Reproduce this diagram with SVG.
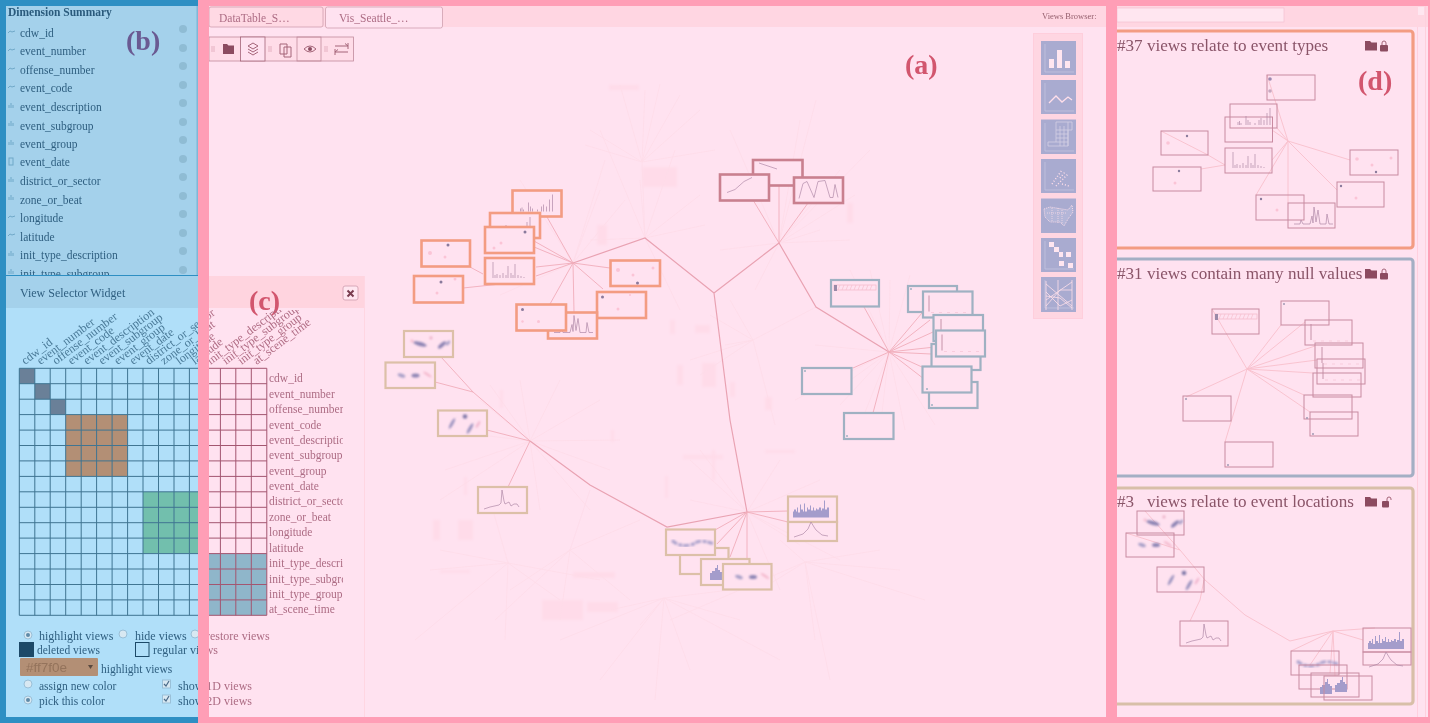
<svg xmlns="http://www.w3.org/2000/svg" xmlns:xlink="http://www.w3.org/1999/xlink" width="1430" height="723" viewBox="0 0 1430 723">
<style>
text{font-family:"Liberation Serif","Times New Roman",serif}
.bt{fill:#2f5f80;font-size:11.5px}
.pt{fill:#ad6c84;font-size:11.5px}
.view{fill:#ffe2f0;stroke-width:2.2}
.o{stroke:#f39c82;stroke-width:2.6}.r{stroke:#c9808f;stroke-width:2.6}.u{stroke:#9fb1c2}.n{stroke:#dcc0a8}
.m{fill:none;stroke:#c88aa0;stroke-width:1}
.e{fill:none;stroke:#f0adba;stroke-width:.9}
.t{fill:none;stroke:#e9a2b2;stroke-width:1.200}
.me{fill:none;stroke:#f8bfcc;stroke-width:.9}
.f{fill:none;stroke:#fedce9;stroke-width:.8}
.dk{fill:#8a7a9c}.pl{fill:#fbc4d6}.sm{fill:none;stroke:#b08aa8;stroke-width:.7}
.ttl{fill:#8a5468;font-size:17.100px}
.lab{font-size:28px;font-weight:bold}
.ic{fill:#a9abd0}.gl{fill:none;stroke:#ffdfea;stroke-width:1.3}.glf{fill:#ffe6f0}
.tb{fill:none;stroke:#a46478;stroke-width:1}
.tbf{fill:#8c4c60}
.pan{fill:none;stroke-width:3.2}
.info{fill:#8fbcd4}
</style>
<defs>
<filter id="soft" filterUnits="userSpaceOnUse" x="0" y="0" width="1430" height="723"><feGaussianBlur stdDeviation=".4"/></filter>
<filter id="bl" x="-30%" y="-30%" width="160%" height="160%"><feGaussianBlur stdDeviation="1.100"/></filter>
<filter id="bl2" x="-30%" y="-30%" width="160%" height="160%"><feGaussianBlur stdDeviation="1.500"/></filter>
<clipPath id="cl"><rect x="0" y="310" width="198" height="413"/></clipPath>
<clipPath id="cr"><rect x="209" y="310" width="134" height="413"/></clipPath>
<clipPath id="clb"><rect x="0" y="6" width="197" height="269"/></clipPath>
<clipPath id="crb"><rect x="209" y="620" width="150" height="100"/></clipPath>
<clipPath id="clc"><rect x="0" y="620" width="198" height="100"/></clipPath>

<g id="barsA" class="sm"><path d="M8 21v-3M9.500 21v-4M11 21v-2M16 21v-9M18 21v-5M20 21v-3M25 21v-2M29 21v-5M31 21v-7M34 21v-5M37 21v-12M40 21v-17"/></g>
<g id="barsB" class="sm"><path d="M8 20V4M10 20v-3M12 20v-4M15 20v-3M18 20v-5M21 20v-3M23 20V8M26 20v-5M28 20v-3M30 20V6M33 20v-3M36 20v-2M39 20v-1"/></g>
<path id="peak" class="sm" d="M6 20H12L13 16L15 20H22L24 12L25 19L26 3L28 18L30 6L32 20H38L39 10L41 20H45"/>
<path id="redA" class="sm" d="M6 3L24 9"/>
<path id="redB" class="sm" d="M7 18L15 15L24 7L32 3"/>
<path id="redC" class="sm" d="M5 21L9 6L13 4L20 20L24 4L31 3L36 20L39 20L41 7L44 20"/>
<g id="nul"><rect x="3" y="5" width="42" height="5" fill="none" stroke="#f4b8c8" stroke-width=".7"/><path d="M7 10l2-5M11 10l2-5M15 10l2-5M19 10l2-5M23 10l2-5M27 10l2-5M31 10l2-5M35 10l2-5M39 10l2-5" fill="none" stroke="#f4b8c8" stroke-width=".6"/><rect x="3" y="5" width="3" height="6" fill="#9a8aa8"/></g>
<g id="nlA"><path d="M6 4V20" stroke="#c08aa0" stroke-width=".9"/><path d="M8 21H44" stroke="#f4c0d0" stroke-width=".6" stroke-dasharray="3 5"/></g>
<g id="blA" filter="url(#bl)" fill="#8c84b4"><ellipse cx="16" cy="13" rx="7" ry="2" transform="rotate(15 16 13)"/><ellipse cx="38" cy="14" rx="5" ry="1.800" transform="rotate(-40 38 14)"/><ellipse cx="44" cy="12" rx="3" ry="1.500" transform="rotate(-50 44 12)" fill="#a8a0c8"/><circle cx="27" cy="7" r="1.400" fill="#e8a8c0"/><circle cx="8" cy="10" r="1.400" fill="#f4b8cc"/></g>
<g id="blB" filter="url(#bl)" fill="#8c84b4"><ellipse cx="16" cy="13" rx="4" ry="1.800" transform="rotate(20 16 13)" fill="#a8a0c8"/><ellipse cx="30" cy="13" rx="4" ry="2"/><ellipse cx="42" cy="12" rx="5" ry="1.200" transform="rotate(35 42 12)" fill="#f4b8cc"/></g>
<g id="blC" filter="url(#bl)" fill="#9c94c0"><ellipse cx="14" cy="13" rx="6" ry="1.500" transform="rotate(-60 14 13)"/><circle cx="27" cy="6" r="2.300" fill="#7f78a8"/><ellipse cx="32" cy="18" rx="6" ry="1.600" transform="rotate(-60 32 18)"/><ellipse cx="40" cy="14" rx="4" ry="1.200" transform="rotate(-60 40 14)" fill="#f0b4cc"/></g>
<path id="spk" class="sm" d="M6 22L12 20L21 18L23 16L24 3L26 14L27 17L31 15L33 19L36 17L39 17L41 20"/>
<path id="dns" fill="#a49ccb" d="M5 21V15H6V13H8V15H9V11H10V16H12V8H13V13H15V15H16V7H17V15H19V11H20V13H22V9H23V14H25V11H26V14H28V12H29V13H31V11H33V14H34V12H36V4H37V13H39V11H41V21Z"/>
<path id="bel" class="sm" d="M6 15L15 12L20 7L23 0L26 5L28 8L34 13L40 14"/>
<g id="blD" filter="url(#bl)"><path d="M6 11Q12 16 19 16T30 13T47 14" fill="none" stroke="#aaa2cc" stroke-width="3" stroke-dasharray="6 1.500 4 1"/></g>
<path id="hst" fill="#a49ccb" d="M9 21V14H11V12H14V9H16V6H17V11H19V13H21V21Z"/>

<g id="gridL"><path d="M19.300 368.300V615.300M34.800 368.300V615.300M50.200 368.300V615.300M65.700 368.300V615.300M81.200 368.300V615.300M96.600 368.300V615.300M112.100 368.300V615.300M127.600 368.300V615.300M143 368.300V615.300M158.500 368.300V615.300M174 368.300V615.300M189.400 368.300V615.300M204.900 368.300V615.300M220.400 368.300V615.300M235.800 368.300V615.300M251.300 368.300V615.300M266.800 368.300V615.300M19.300 368.300H266.800M19.300 383.700H266.800M19.300 399.200H266.800M19.300 414.600H266.800M19.300 430.100H266.800M19.300 445.500H266.800M19.300 460.900H266.800M19.300 476.400H266.800M19.300 491.800H266.800M19.300 507.300H266.800M19.300 522.700H266.800M19.300 538.100H266.800M19.300 553.600H266.800M19.300 569H266.800M19.300 584.500H266.800M19.300 599.900H266.800M19.300 615.300H266.800"/></g>
<g id="rot" font-size="12">
<text transform="translate(25 365) rotate(-37)">cdw_id</text>
<text transform="translate(40.500 365) rotate(-37)">event_number</text>
<text transform="translate(56 365) rotate(-37)">offense_number</text>
<text transform="translate(71.400 365) rotate(-37)">event_code</text>
<text transform="translate(86.900 365) rotate(-37)">event_description</text>
<text transform="translate(102.300 365) rotate(-37)">event_subgroup</text>
<text transform="translate(117.800 365) rotate(-37)">event_group</text>
<text transform="translate(133.200 365) rotate(-37)">event_date</text>
<text transform="translate(148.700 365) rotate(-37)">district_or_sector</text>
<text transform="translate(164.100 365) rotate(-37)">zone_or_beat</text>
<text transform="translate(179.600 365) rotate(-37)">longitude</text>
<text transform="translate(195 365) rotate(-37)">latitude</text>
<text transform="translate(210.500 365) rotate(-37)">init_type_description</text>
<text transform="translate(225.900 365) rotate(-37)">init_type_subgroup</text>
<text transform="translate(241.400 365) rotate(-37)">init_type_group</text>
<text transform="translate(256.800 365) rotate(-37)">at_scene_time</text>
</g>
<g id="ctl" font-size="12">
<text x="39" y="640">highlight views</text><text x="135" y="640">hide views</text><text x="206" y="640">restore views</text>
<text x="153" y="654">regular views</text>
<text x="178" y="690">show 1D views</text><text x="178" y="705">show 2D views</text>
</g>
</defs>

<g filter="url(#soft)">
<rect width="1430" height="723" fill="#ffe2f0"/>

<!-- left blue side -->
<rect x="0" y="0" width="198" height="723" fill="#2f8fc3"/>
<g id="panel-b">
<rect x="6" y="6" width="191" height="269" fill="#a4d1eb"/>
<rect x="196.500" y="6" width="1.500" height="269" fill="#7fb8d8"/>
<text x="8" y="16" font-size="11.500" font-weight="bold" fill="#2a5a7c">Dimension Summary</text>
<g clip-path="url(#clb)" class="bt">
<text x="20" y="36.500">cdw_id</text><text x="20" y="55">event_number</text><text x="20" y="73.500">offense_number</text><text x="20" y="92">event_code</text><text x="20" y="111">event_description</text><text x="20" y="129.500">event_subgroup</text><text x="20" y="148">event_group</text><text x="20" y="166">event_date</text><text x="20" y="185">district_or_sector</text><text x="20" y="203.500">zone_or_beat</text><text x="20" y="222">longitude</text><text x="20" y="240.500">latitude</text><text x="20" y="259">init_type_description</text><text x="20" y="277.500">init_type_subgroup</text>
<g fill="none" stroke="#6fa8c8" stroke-width="1"><path d="M8 33l2-2 2 1 3-1M8 51l2-2 2 1 3-1M8 70l2-2 2 1 3-1M8 88l2-2 2 1 3-1M8 218l2-2 2 1 3-1M8 236l2-2 2 1 3-1M9 108v-3M11 108v-5M13 108v-3M9 126v-3M11 126v-5M13 126v-3M9 145v-3M11 145v-5M13 145v-3M9 182v-3M11 182v-5M13 182v-3M9 200v-3M11 200v-5M13 200v-3M9 256v-3M11 256v-5M13 256v-3M9 274v-3M11 274v-5M13 274v-3"/><rect x="9" y="158" width="4" height="7"/></g>
</g>
<g class="info"><circle cx="183" cy="29" r="4"/><circle cx="183" cy="48" r="4"/><circle cx="183" cy="66" r="4"/><circle cx="183" cy="85" r="4"/><circle cx="183" cy="103" r="4"/><circle cx="183" cy="122" r="4"/><circle cx="183" cy="140" r="4"/><circle cx="183" cy="159" r="4"/><circle cx="183" cy="177" r="4"/><circle cx="183" cy="196" r="4"/><circle cx="183" cy="214" r="4"/><circle cx="183" cy="233" r="4"/><circle cx="183" cy="251" r="4"/><circle cx="183" cy="270" r="4"/></g>
<text class="lab" x="126" y="50" fill="#6a5a92">(b)</text>
</g>

<g id="view-selector">
<rect x="6" y="276" width="192" height="441" fill="#b0dff9"/>
<rect x="6" y="276" width="192" height="32" fill="#a4d1eb"/>
<text x="20" y="297" font-size="12" fill="#2f5f80">View Selector Widget</text>
<g clip-path="url(#cl)" fill="#4a7a98"><use href="#rot"/></g>
<rect x="19.300" y="368.300" width="15.500" height="15.400" fill="#6a8098"/>
<rect x="34.800" y="383.700" width="15.400" height="15.500" fill="#6a8098"/>
<rect x="50.200" y="399.200" width="15.500" height="15.400" fill="#6a8098"/>
<rect x="65.700" y="414.600" width="61.900" height="61.800" fill="#b38f74"/>
<rect x="143" y="491.800" width="55" height="61.800" fill="#72bfad"/>
<g clip-path="url(#cl)" fill="none" stroke="#3f7492" stroke-width="1"><use href="#gridL"/></g>
<g clip-path="url(#clc)" class="bt" fill="#2f5f80"><use href="#ctl"/></g>
<text class="bt" x="37" y="654" font-size="12">deleted views</text>
<rect x="19" y="642" width="15" height="15" fill="#1c4a68"/>
<rect x="135.500" y="642.500" width="13.500" height="14" fill="none" stroke="#1c4a68"/>
<rect x="20" y="658" width="78" height="18" rx="1" fill="#b38f74"/>
<text x="26" y="672" font-size="13.500" fill="#94735c" style="font-family:'Liberation Sans',sans-serif">#ff7f0e</text>
<path d="M88 665h5l-2.500 4z" fill="#5a4a40"/>
<text class="bt" x="101" y="673" font-size="12">highlight views</text>
<text class="bt" x="39" y="690" font-size="12">assign new color</text>
<text class="bt" x="39" y="705" font-size="12">pick this color</text>
<g fill="#d8e8f2" stroke="#9ac0d8"><circle cx="28" cy="635" r="4"/><circle cx="123" cy="634" r="4"/><circle cx="195" cy="634" r="4"/><circle cx="28" cy="684" r="4"/><circle cx="28" cy="700" r="4"/><rect x="162.500" y="680" width="8" height="8"/><rect x="162.500" y="695" width="8" height="8"/></g>
<g fill="#5f8aa8"><circle cx="28" cy="635" r="2"/><circle cx="28" cy="700" r="2"/></g>
<path d="M164 684l2 2 3-5M164 699l2 2 3-5" fill="none" stroke="#4a6a88" stroke-width="1.200"/>
</g>

<!-- main view -->
<g id="main-faint">
<g filter="url(#bl2)" fill="#ffdbe9"><rect x="642" y="167" width="35" height="20"/><rect x="597" y="225" width="10" height="20"/><rect x="609" y="85" width="30" height="5"/><rect x="670" y="320" width="5" height="14"/><rect x="677" y="365" width="6" height="20"/><rect x="702" y="363" width="14" height="24"/><rect x="730" y="382" width="5" height="15"/><rect x="765" y="397" width="7" height="13"/><rect x="695" y="325" width="15" height="8"/><rect x="847" y="203" width="6" height="20"/><rect x="611" y="430" width="3" height="12"/><rect x="458" y="520" width="15" height="20"/><rect x="433" y="520" width="7" height="20"/><rect x="573" y="572" width="42" height="6"/><rect x="542" y="600" width="41" height="20"/><rect x="587" y="602" width="31" height="10"/><rect x="464" y="477" width="3" height="18"/><rect x="505" y="492" width="3" height="5"/><rect x="683" y="455" width="40" height="4"/><rect x="712" y="450" width="3" height="30"/><rect x="665" y="476" width="3" height="22"/><rect x="765" y="450" width="30" height="3"/><rect x="440" y="570" width="30" height="3"/><rect x="500" y="390" width="3" height="18"/></g>
<path class="f" d="M642 162L620 85M642 162L645 90M642 162L680 95M642 162L700 110M642 162L590 130M642 162L585 145M642 162L715 150M642 162L660 84M642 162L645 238
M779 243L816 100M779 243L870 150M779 243L840 170M779 243L800 120M779 243L850 240M779 243L720 250M779 243L730 130M779 243L820 230M779 243L755 290M779 243L855 195
M645 238L600 130M645 238L640 180M645 238L675 150M645 238L590 240M645 238L680 310M645 238L705 225M645 238L700 195
M573 263L520 180M573 263L600 190M573 263L625 200M573 263L605 160M573 263L500 295
M889 352L890 280M889 352L870 270M889 352L850 270M889 352L815 345M889 352L830 395M889 352L860 425M889 352L905 430M889 352L935 425M889 352L795 400M889 352L910 275M889 352L840 405M889 352L880 430
M753 340L816 307M753 340L730 300M753 340L690 360M753 340L710 315M753 340L775 425M753 340L700 375M753 340L725 345
M530 441L480 400M530 441L520 380M530 441L560 380M530 441L600 400M530 441L620 440M530 441L610 470M530 441L440 500M530 441L445 470M530 441L590 510M530 441L540 510M530 441L440 430M530 441L490 385
M747 512L690 460M747 512L700 450M747 512L780 460M747 512L820 480M747 512L840 560M747 512L780 590M747 512L690 500M747 512L700 560M747 512L800 545
M805 562L670 620M805 562L760 590M805 562L880 550M805 562L830 680M805 562L815 640M805 562L900 570M805 562L925 600M805 562L780 540
M664 598L640 625M664 598L600 680M664 598L560 640M664 598L740 620M664 598L780 660M664 598L690 670M664 598L655 700M664 598L730 590M664 598L610 610
M570 550L590 490M570 550L510 590M570 550L560 620M570 550L495 620M570 550L630 600M570 550L640 520
M508 563L440 550M508 563L430 570M508 563L415 640M508 563L505 640M508 563L560 600M508 563L600 580M508 563L490 500"/>
</g>
<g id="connectors">
<path class="t" d="M714 293L730 420L747 512M714 293L645 238L573 263M714 293L779 243M779 243L816 307L889 352M530 441L590 485L667 527L747 512"/>
<path class="e" d="M573 263L547 217M573 263L534 241M573 263L534 247M573 263L536 267M573 263L536 276M470 267L483 274M463 288L510 283M573 263L610 268M573 263L603 289M573 263L550 304M573 263L574 312
M779 243L753 200M779 243L779 186M779 243L808 203
M889 352L864 307M889 352L922 313M889 352L930 320M889 352L933 332M889 352L935 347M889 352L931 354M889 352L922 367M889 352L928 382M889 352L853 368M889 352L873 413
M530 441L473 392L441 357M473 392L435 382M530 441L487 430M530 441L508 487
M747 512L788 511M747 512L788 522M747 512L715 530M747 512L717 544M747 512L730 557M747 512L747 565"/>
<path class="me" d="M1267 75L1288 141M1277 128L1288 141M1272 130L1288 141M1161 131L1208 155L1225 165M1272 160L1288 141M1201 169L1225 165M1350 160L1288 141M1337 190L1288 141M1256 195L1288 141M1288 203L1288 141
M1212 309L1247 369M1281 325L1247 369M1305 322L1247 369M1315 346L1247 369M1317 360L1247 369M1313 373L1247 369M1304 395L1247 369M1310 412L1247 369M1186 397L1247 369M1225 442L1247 369
M1145 511L1180 550L1205 580L1245 615L1290 641L1333 631M1126 533L1180 550M1204 580L1200 600L1190 621M1333 631L1291 651M1333 631L1310 665M1333 631L1330 673M1333 631L1335 676M1333 631L1363 640M1333 631L1375 628"/>
</g>
<g id="nodes-main">
<g id="v-o1"><rect class="view o" x="512.500" y="190.500" width="49" height="26"/><use href="#barsA" x="512.500" y="190.500"/></g>
<g id="v-o2"><rect class="view o" x="490" y="213" width="50" height="25"/><use href="#barsA" x="490" y="213"/></g>
<g id="v-o3"><rect class="view o" x="485" y="227" width="49" height="26"/><circle class="dk" cx="525" cy="232" r="1.500"/><circle class="pl" cx="501" cy="243" r="1.500"/><circle class="pl" cx="494" cy="248" r="1.500"/></g>
<g id="v-o4"><rect class="view o" x="421.500" y="240.500" width="48.500" height="26"/><circle class="dk" cx="448" cy="245" r="1.500"/><circle class="pl" cx="430" cy="253" r="2"/><circle class="pl" cx="445" cy="257" r="1.500"/></g>
<g id="v-o5"><rect class="view o" x="485" y="258" width="49" height="26"/><use href="#barsB" x="485" y="258"/></g>
<g id="v-o6"><rect class="view o" x="414" y="276" width="49" height="26.500"/><circle class="dk" cx="441" cy="282" r="1.500"/><circle class="pl" cx="437" cy="293" r="1.500"/><circle class="pl" cx="455" cy="279" r="1.500"/></g>
<g id="v-o7"><rect class="view o" x="610.500" y="260.500" width="49.500" height="25.500"/><circle class="dk" cx="637.500" cy="283" r="1.500"/><circle class="pl" cx="618" cy="270" r="2"/><circle class="pl" cx="633" cy="275" r="1.500"/><circle class="pl" cx="653" cy="268" r="1.500"/></g>
<g id="v-o8"><rect class="view o" x="597" y="292" width="49" height="26"/><circle class="dk" cx="602.500" cy="297" r="1.500"/><circle class="pl" cx="618" cy="309" r="1.500"/><circle class="pl" cx="630" cy="295" r="1"/></g>
<g id="v-o10"><rect class="view o" x="548" y="312.500" width="49" height="26"/><use href="#peak" x="548" y="312.500"/></g>
<g id="v-o9"><rect class="view o" x="516.500" y="304.500" width="49.500" height="26"/><circle class="dk" cx="522.500" cy="309.500" r="1.500"/><circle class="pl" cx="538.500" cy="321.500" r="1.500"/><circle class="pl" cx="522.500" cy="321.500" r="1.200"/></g>
<g id="v-r1"><rect class="view r" x="753" y="160" width="49.500" height="25.500"/><use href="#redA" x="753" y="160"/></g>
<g id="v-r3"><rect class="view r" x="794" y="177.500" width="49" height="25.500"/><use href="#redC" x="794" y="177.500"/></g>
<g id="v-r2"><rect class="view r" x="720" y="174.500" width="49" height="26"/><use href="#redB" x="720" y="174.500"/></g>
<g id="v-u1"><rect class="view u" x="831" y="280" width="48" height="26.500"/><use href="#nul" x="831" y="280"/></g>
<g id="v-u2"><rect class="view u" x="908" y="286" width="49" height="26"/><circle cx="911" cy="289" r="1" fill="#9fb1c2"/></g>
<g id="v-u3"><rect class="view u" x="923" y="291.500" width="49.500" height="26"/><use href="#nlA" x="923" y="291.500"/></g>
<g id="v-u4"><rect class="view u" x="933.500" y="315" width="49.500" height="26"/><use href="#nlA" x="935" y="315"/></g>
<g id="v-u6"><rect class="view u" x="931.500" y="344" width="49" height="26"/></g>
<g id="v-u5"><rect class="view u" x="936" y="330.500" width="49" height="26"/><use href="#nlA" x="936" y="330.500"/></g>
<g id="v-u8"><rect class="view u" x="929" y="382" width="48.500" height="26"/><circle cx="932" cy="405" r="1" fill="#9fb1c2"/></g>
<g id="v-u7"><rect class="view u" x="922.500" y="366.500" width="49" height="26"/><circle cx="927" cy="389" r="1" fill="#9fb1c2"/></g>
<g id="v-u9"><rect class="view u" x="802" y="368" width="49.500" height="26"/><circle cx="805" cy="371" r="1" fill="#9fb1c2"/></g>
<g id="v-u10"><rect class="view u" x="844" y="413" width="49.500" height="26"/><circle cx="847" cy="436" r="1" fill="#9fb1c2"/></g>
<g id="v-n1"><rect class="view n" x="404" y="331" width="49" height="26"/><use href="#blA" x="404" y="331"/></g>
<g id="v-n2"><rect class="view n" x="385.500" y="362.500" width="49.500" height="25.500"/><use href="#blB" x="385.500" y="362.500"/></g>
<g id="v-n3"><rect class="view n" x="438" y="410.500" width="49" height="25.500"/><use href="#blC" x="438" y="410.500"/></g>
<g id="v-n4"><rect class="view n" x="478" y="487" width="49" height="26"/><use href="#spk" x="478" y="487"/></g>
<g id="v-n5"><rect class="view n" x="788" y="496.500" width="49" height="25.500"/><use href="#dns" x="788" y="496.500"/></g>
<g id="v-n6"><rect class="view n" x="788" y="522" width="49" height="19"/><use href="#bel" x="788" y="522"/></g>
<g id="v-n7"><rect class="view n" x="680" y="548" width="48.500" height="26"/></g>
<g id="v-n8"><rect class="view n" x="666" y="529.500" width="49" height="25.500"/><use href="#blD" x="666" y="529.500"/></g>
<g id="v-n9"><rect class="view n" x="701" y="559" width="48.500" height="26"/><use href="#hst" x="701" y="559"/></g>
<g id="v-n10"><rect class="view n" x="723" y="564" width="48.500" height="25.500"/><use href="#blB" x="723" y="564"/></g>
</g>

<text class="lab" x="905" y="74" fill="#d2566e">(a)</text>

<!-- tab strip -->
<g id="tabs">
<rect x="209" y="6" width="897" height="21" fill="#ffd6e2"/>
<rect x="209" y="7" width="114" height="20" rx="2" fill="#ffd9e4" stroke="#cf9fae" stroke-width=".8"/>
<rect x="325.500" y="7" width="117" height="21" rx="2" fill="#ffe2f0" stroke="#cf9fae" stroke-width=".8"/>
<text class="pt" x="219" y="22" font-size="11.500">DataTable_S…</text>
<text class="pt" x="339" y="22" font-size="11.500">Vis_Seattle_…</text>
<text x="1042" y="19" font-size="8.500" fill="#96606e">Views Browser:</text>
</g>
<g id="toolbar">
<rect x="209" y="37" width="144.500" height="24" fill="#ffdce8" stroke="#c08a9c" stroke-width=".8"/>
<rect x="240.500" y="37" width="24.500" height="24" fill="#ffe2f0" stroke="#a46478" stroke-width=".8"/>
<rect x="297" y="37" width="24" height="24" fill="none" stroke="#c08a9c" stroke-width=".8"/>
<path class="tbf" d="M223 44h4l1.500 1.500H234V54H223z"/>
<path class="tb" d="M248 46l5-3 5 3-5 3zM248 49l5 3 5-3M248 52l5 3 5-3" stroke-width=".8"/>
<path class="tb" d="M280 44h7v10h-7zM284 47h7v10h-7z" fill="#ffdce8"/>
<path class="tb" d="M304 49q6-6 12 0q-6 6-12 0z"/><circle class="tbf" cx="310" cy="49" r="2"/>
<path class="tb" d="M335 46h13M345 43.500l3 2.500M348 43v6M335 52h13M338 49.500l-3 2.500M335 49v6"/>
<path d="M212 46v6M214 46v6M269 46v6M271 46v6M325 46v6M327 46v6" stroke="#e4b0c0" fill="none"/>
</g>
<g id="chart-palette">
<rect x="1033.500" y="33.500" width="49" height="285" fill="#ffd6e2" stroke="#ffcedc"/>
<rect class="ic" x="1041" y="41" width="35" height="34"/><rect class="ic" x="1041" y="80" width="35" height="34"/><rect class="ic" x="1041" y="119.500" width="35" height="34.500"/><rect class="ic" x="1041" y="159" width="35" height="34"/><rect class="ic" x="1041" y="198.500" width="35" height="34.500"/><rect class="ic" x="1041" y="238" width="35" height="34"/><rect class="ic" x="1041" y="277" width="35" height="35"/>
<path d="M1045 44V72H1074M1045 83V111H1074M1045 123V151H1074M1045 162V190H1074M1045 241V269H1074M1045 280V308H1074" fill="none" stroke="#c4c4e0" stroke-width=".8"/>
<path class="glf" d="M1049 59h5v9h-5zM1057 50h5v18h-5zM1065 61h5v7h-5z"/>
<path class="gl" d="M1049 103l7-7 6 6 6-5 4 3" stroke-width="1.500"/>
<path fill="none" stroke="#d4cfe4" stroke-width=".8" d="M1056 122h16v8h-4v16h-20v-4h8zM1060 126v20M1064 126v20M1068 122v24M1056 130h12M1056 134h12M1056 138h12M1056 142h12"/>
<path fill="none" stroke="#ffdfea" stroke-width="1.500" stroke-dasharray="1 2" d="M1052 184L1062 170M1056 186L1068 174M1062 184l7 2M1060 178l5-6"/>
<path fill="#b4b6d8" stroke="#ffdfea" stroke-width=".9" stroke-dasharray="1 1" d="M1044 209L1050 207L1068 210L1072 205L1073 212L1068 219L1064 226L1060 222L1050 222L1045 217Z"/>
<path d="M1047 213H1067M1052 208V222M1058 208V224M1062 210V224" stroke="#ffdfea" stroke-width=".7" stroke-dasharray="1 1" fill="none"/>
<path class="glf" d="M1049 242h5v5h-5zM1054 247h5v5h-5zM1059 252h4v5h-4zM1066 252h5v5h-5zM1059 261h5v5h-5zM1068 263h5v5h-5z"/>
<path fill="none" stroke="#ffdfea" stroke-width=".8" d="M1046 284L1072 306M1046 300L1072 282M1046 292L1060 306L1072 300M1046 306L1060 290L1072 290M1046 296L1060 298L1072 308M1058 280V310M1046 281V310M1072 280V310"/>
</g>

<!-- panel c -->
<g id="panel-c">
<rect x="209" y="276" width="155" height="32" fill="#ffd4df"/>
<rect x="209" y="308" width="155" height="409" fill="#ffe2f0"/>
<path d="M364.500 276V717" stroke="#ffd6e2" fill="none"/>
<text class="lab" x="249" y="310" fill="#d2566e">(c)</text>
<rect x="343" y="286" width="15" height="14" rx="2" fill="#ffe6f0" stroke="#d8a8b8"/>
<path d="M347.500 290.500l6 6M353.500 290.500l-6 6" stroke="#7a3c50" stroke-width="2" fill="none"/>
<g clip-path="url(#cr)" fill="#b06c84"><use href="#rot"/></g>
<rect x="209" y="553.600" width="57.800" height="61.700" fill="#8fb6ca"/>
<g clip-path="url(#cr)" fill="none" stroke="#a35670" stroke-width="1"><use href="#gridL"/></g>
<g clip-path="url(#cr)" class="pt" font-size="12">
<text x="269" y="382">cdw_id</text><text x="269" y="397.500">event_number</text><text x="269" y="413">offense_number</text><text x="269" y="428.500">event_code</text><text x="269" y="444">event_description</text><text x="269" y="459">event_subgroup</text><text x="269" y="474.500">event_group</text><text x="269" y="490">event_date</text><text x="269" y="505">district_or_sector</text><text x="269" y="520.500">zone_or_beat</text><text x="269" y="536">longitude</text><text x="269" y="551.500">latitude</text><text x="269" y="567">init_type_description</text><text x="269" y="582.500">init_type_subgroup</text><text x="269" y="598">init_type_group</text><text x="269" y="613">at_scene_time</text>
</g>
<g clip-path="url(#crb)" fill="#b06c84" class="pt"><use href="#ctl"/></g>
</g>

<!-- right column -->
<g id="right-col">
<rect x="1117" y="6" width="311" height="21" fill="#ffd6e2"/>
<rect x="1117" y="8" width="167" height="14" fill="#ffe6f0" stroke="#f4c0d0" stroke-width=".7"/>
<path d="M1417.500 27V717M1425.500 6V717" stroke="#ffd0de" fill="none"/>
<rect x="1418" y="7" width="6" height="8" fill="#ffe6f0"/>
</g>
<g id="list-1">
<rect class="pan" x="1109" y="31" width="304" height="217" rx="3" stroke="#f39c82"/>
<text class="ttl" x="1117" y="51">#37 views relate to event types</text>
<path class="tbf" d="M1365 41h5l1.500 1.500h5.500v8h-12z"/><rect class="tbf" x="1380" y="45" width="8" height="6.500" rx="1"/><path d="M1382 45v-2a2 2 0 0 1 4 0v2" class="tb" stroke-width="1.300"/>
<text class="lab" x="1358" y="90" fill="#d2566e">(d)</text>
<g id="m1a"><rect class="m" x="1267" y="75" width="48" height="25"/><circle cx="1270" cy="79" r="1.800" fill="#9c8ab0"/><circle cx="1270" cy="91" r="1.800" fill="#c8a8c0"/></g>
<g id="m1b"><rect class="m" x="1225" y="117" width="47.500" height="25"/></g>
<g id="m1c"><rect class="m" x="1230" y="104" width="47" height="24"/><use href="#barsA" x="1230" y="104"/></g>
<g id="m1d"><rect class="m" x="1161" y="131" width="47" height="24"/><circle class="dk" cx="1187" cy="136" r="1.200"/><circle class="pl" cx="1168" cy="143" r="1.800"/></g>
<g id="m1e"><rect class="m" x="1225" y="148" width="47" height="25"/><use href="#barsB" x="1225" y="148"/></g>
<g id="m1f"><rect class="m" x="1153" y="167" width="48" height="24"/><circle class="dk" cx="1179" cy="171" r="1.200"/><circle class="pl" cx="1175" cy="183" r="1.500"/></g>
<g id="m1g"><rect class="m" x="1350" y="150" width="48" height="25"/><circle class="dk" cx="1376" cy="172" r="1.200"/><circle class="pl" cx="1357" cy="159" r="1.800"/><circle class="pl" cx="1372" cy="165" r="1.500"/><circle class="pl" cx="1391" cy="158" r="1.500"/></g>
<g id="m1h"><rect class="m" x="1337" y="182" width="47" height="25"/><circle class="dk" cx="1341" cy="186" r="1.200"/><circle class="pl" cx="1356" cy="198" r="1.500"/></g>
<g id="m1i"><rect class="m" x="1256" y="195" width="48" height="25"/><circle class="dk" cx="1261" cy="199" r="1.200"/><circle class="pl" cx="1277" cy="210" r="1.500"/></g>
<g id="m1j"><rect class="m" x="1288" y="203" width="47" height="25"/><use href="#peak" x="1288" y="204"/></g>
</g>
<g id="list-2">
<rect class="pan" x="1109" y="259" width="304" height="217" rx="3" stroke="#a4afc4"/>
<text class="ttl" x="1117" y="279">#31 views contain many null values</text>
<path class="tbf" d="M1365 269h5l1.500 1.500h5.500v8h-12z"/><rect class="tbf" x="1380" y="273" width="8" height="6.500" rx="1"/><path d="M1382 273v-2a2 2 0 0 1 4 0v2" class="tb" stroke-width="1.300"/>
<g id="m2a"><rect class="m" x="1212" y="309" width="47" height="25"/><use href="#nul" x="1212" y="309"/></g>
<g id="m2b"><rect class="m" x="1281" y="301" width="48" height="24"/><circle cx="1284" cy="304" r="1" fill="#a09ab4"/></g>
<g id="m2c"><rect class="m" x="1305" y="320" width="47" height="25"/><use href="#nlA" x="1305" y="320"/></g>
<g id="m2d"><rect class="m" x="1315" y="343" width="48" height="25"/><use href="#nlA" x="1316" y="343"/></g>
<g id="m2e"><rect class="m" x="1313" y="373" width="48" height="24"/></g>
<g id="m2f"><rect class="m" x="1317" y="359" width="48" height="25"/><use href="#nlA" x="1317" y="359"/></g>
<g id="m2g"><rect class="m" x="1304" y="395" width="48" height="24"/><circle cx="1307" cy="418" r="1" fill="#a09ab4"/></g>
<g id="m2h"><rect class="m" x="1310" y="412" width="48" height="24"/><circle cx="1313" cy="434" r="1" fill="#a09ab4"/></g>
<g id="m2i"><rect class="m" x="1183" y="396" width="48" height="25"/><circle cx="1186" cy="399" r="1" fill="#a09ab4"/></g>
<g id="m2j"><rect class="m" x="1225" y="442" width="48" height="25"/><circle cx="1228" cy="465" r="1" fill="#a09ab4"/></g>
</g>
<g id="list-3">
<rect class="pan" x="1109" y="488" width="304" height="216" rx="3" stroke="#d8bfa8"/>
<text class="ttl" x="1117" y="507" xml:space="preserve">#3   views relate to event locations</text>
<path class="tbf" d="M1365 497h5l1.500 1.500h5.500v8h-12z"/><rect class="tbf" x="1382" y="501" width="7" height="6.500" rx="1"/><path d="M1387 501v-2a2 2 0 0 1 4 0v1" class="tb" stroke-width="1.300"/>
<g id="m3a"><rect class="m" x="1137" y="511" width="47" height="24"/><use href="#blA" x="1137" y="510"/></g>
<g id="m3b"><rect class="m" x="1126" y="533" width="48" height="24"/><use href="#blB" x="1126" y="532"/></g>
<g id="m3c"><rect class="m" x="1157" y="567" width="47" height="25"/><use href="#blC" x="1157" y="567"/></g>
<g id="m3d"><rect class="m" x="1180" y="621" width="48" height="25"/><use href="#spk" x="1180" y="621"/></g>
<g id="m3e"><rect class="m" x="1363" y="628" width="48" height="24"/><use href="#dns" x="1363" y="628"/></g>
<g id="m3f"><rect class="m" x="1363" y="652" width="48" height="13"/><use href="#bel" x="1363" y="652"/></g>
<g id="m3g"><rect class="m" x="1291" y="651" width="48" height="24"/><use href="#blD" x="1291" y="650"/></g>
<g id="m3h"><rect class="m" x="1299" y="665" width="48" height="24"/></g>
<g id="m3i"><rect class="m" x="1311" y="673" width="48" height="24"/><use href="#hst" x="1311" y="673"/></g>
<g id="m3j"><rect class="m" x="1324" y="676" width="48" height="24"/><use href="#hst" x="1326" y="671"/></g>
</g>

<!-- frames -->
<g id="frames" fill="#ff9eb6">
<rect x="198" y="0" width="1232" height="6"/>
<rect x="198" y="0" width="11" height="723"/>
<rect x="1106" y="0" width="11" height="723"/>
<rect x="198" y="717" width="1232" height="6"/>
<rect x="1428" y="0" width="2" height="723"/>
</g>
<g fill="#2f8fc3"><rect x="0" y="0" width="198" height="6"/><rect x="0" y="0" width="6" height="723"/><rect x="0" y="717" width="198" height="6"/></g>
</g>
</svg>
